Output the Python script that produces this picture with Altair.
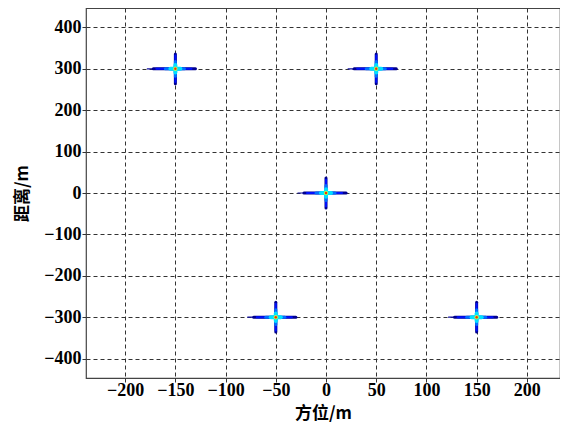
import altair as alt
import pandas as pd

# Point-target positions (azimuth m, range m)
target_x = [-150, 50, 0, -50, 150]
target_y = [300, 300, 0, -300, -300]
x_ticks = [-200, -150, -100, -50, 0, 50, 100, 150, 200]
y_ticks = [-400, -300, -200, -100, 0, 100, 200, 300, 400]

df = pd.DataFrame({"x": target_x, "y": target_y})
base = alt.Chart(df)

xs = alt.Scale(domain=[-239, 233], nice=False, zero=False)
ys = alt.Scale(domain=[-447, 447], nice=False, zero=False)

lab = "replace(format(datum.value, 'd'), '-', '\u2212')"

axis_common = dict(
    grid=True, gridDash=[4, 3], gridColor="#333333", gridOpacity=1, gridWidth=1,
    domain=False, ticks=True, tickSize=4, tickColor="#333333",
    labelFont="Liberation Serif", labelFontWeight="bold", labelFontSize=18,
    labelColor="black", labelExpr=lab,
    titleFont="Noto Sans CJK SC", titleFontSize=17, titleFontWeight="bold",
    titleColor="black",
)

x_axis = alt.Axis(values=x_ticks, titleX=237, titleY=35,
                  titleBaseline="middle", titleAlign="center",
                  labelBaseline="top", labelPadding=-1, **axis_common)
y_axis = alt.Axis(values=y_ticks, titleX=-64, titleY=185,
                  titleAngle=-90, titleBaseline="middle",
                  titleAlign="center", labelPadding=1, **axis_common)
XT = "方位/m"
YT = "距离/m"


def hbar(left, right, color, width):
    return base.transform_calculate(
        xa=f"datum.x - {left}", xb=f"datum.x + {right}"
    ).mark_rule(color=color, strokeWidth=width, strokeCap="round").encode(
        x=alt.X("xa:Q", scale=xs, axis=x_axis, title=XT), x2="xb:Q",
        y=alt.Y("y:Q", scale=ys, axis=y_axis, title=YT),
    )


def vbar(down, up, color, width):
    return base.transform_calculate(
        ya=f"datum.y - {down}", yb=f"datum.y + {up}"
    ).mark_rule(color=color, strokeWidth=width, strokeCap="round").encode(
        x=alt.X("x:Q", scale=xs, axis=x_axis, title=XT),
        y=alt.Y("ya:Q", scale=ys, axis=y_axis, title=YT), y2="yb:Q",
    )


def dot(color, size):
    return base.mark_circle(color=color, size=size, opacity=1).encode(
        x=alt.X("x:Q", scale=xs, axis=x_axis, title=XT),
        y=alt.Y("y:Q", scale=ys, axis=y_axis, title=YT),
    )


layers = [
    hbar(28, 20, "#1010a0", 1.2),
    hbar(22, 20, "#00008f", 3),
    vbar(36, 36, "#00008f", 3),
    hbar(19, 16, "#0010ff", 2),
    vbar(32, 32, "#0010ff", 2),
    hbar(10, 9, "#0070ff", 3),
    vbar(18, 18, "#0070ff", 3),
    hbar(5, 5, "#00e0ff", 4),
    vbar(9, 9, "#00e0ff", 4),
    dot("#a0ff60", 20),
    dot("#ff3000", 6),
]

chart = alt.layer(*layers).properties(
    width=474, height=370,
    autosize=alt.AutoSizeParams(type="none"),
    padding={"left": 78, "top": 0, "right": 0, "bottom": 44},
    background="white",
).configure_view(stroke="#444444", strokeWidth=1.2)

chart.save("out.html", embed_options={"renderer": "svg", "actions": False})
